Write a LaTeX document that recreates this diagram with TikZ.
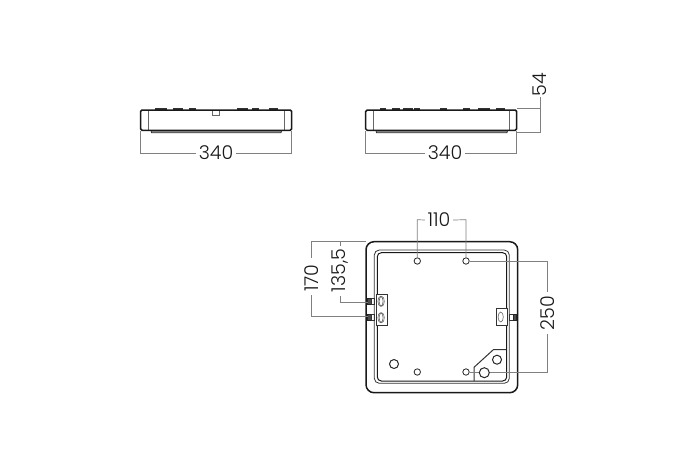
\documentclass[tikz,border=0pt]{standalone}
\usepackage{fontspec}
\setmainfont{Poppins}[UprightFont=* Light]
\tikzset{
  dimline/.style={draw=black!50,line width=0.7pt},
  dimtext/.style={font=\fontsize{19}{20}\selectfont,text=black!90,inner sep=2.5pt},
  heavy/.style={draw=black!90,line width=1.5pt},
  medium/.style={draw=black!80,line width=0.8pt},
  fine/.style={draw=black!60,line width=0.6pt},
  hole/.style={draw=black!85,line width=0.8pt,fill=white},
  bighole/.style={draw=black!85,line width=1pt,fill=white},
  screwbox/.style={draw=black!85,line width=0.8pt,fill=black!70},
}
\begin{document}
\begin{tikzpicture}[x=1pt,y=-1pt]
\useasboundingbox (0,0) rectangle (700,467);
% ---- left side view
\foreach \a/\b in {155/167,173/183,189/196,237/248,252/259,269/278}{
  \draw[medium,line width=1.2pt] (\a,109) -- (\b,109);
}
\draw[fine] (212.7,110.5) rectangle (219.3,115);
\draw[fine] (148.3,110) -- (148.3,130) (284,110) -- (284,130);
\draw[medium,fill=black!45] (151,130.5) -- (151.5,132.7) -- (281,132.7) -- (281.7,130.5);
\draw[heavy,rounded corners=1.5pt] (140.5,110) rectangle (291.7,130.3);
% ---- right side view
\foreach \a/\b in {380/386,392/400,403/413,414/420,440/447,463/470,478/490,496/505}{
  \draw[medium,line width=1.2pt] (\a,109) -- (\b,109);
}
\draw[fine] (373.3,110) -- (373.3,130) (509.3,110) -- (509.3,130);
\draw[medium,fill=black!45] (376,130.5) -- (376.5,132.7) -- (507,132.7) -- (507.5,130.5);
\draw[heavy,rounded corners=1.5pt] (365.7,110) rectangle (516.7,130.3);
% ---- plan view
\draw[heavy,rounded corners=8pt] (366,241.7) rectangle (517.7,392.7);
\draw[medium,rounded corners=5pt] (374.3,250) rectangle (509.3,383.3);
\draw[heavy,line width=1pt,rounded corners=4pt] (377.3,252.7) rectangle (506.7,381);
% left bracket
\draw[medium,fill=white] (376,294.3) rectangle (387.3,325.7);
\draw[fine] (381.7,301.3) ellipse [x radius=2.6,y radius=5];
\draw[fine] (381.7,317.7) ellipse [x radius=2.6,y radius=5];
\draw[fine] (380.5,301.3) ellipse [x radius=2.6,y radius=5];
\draw[fine] (380.5,317.7) ellipse [x radius=2.6,y radius=5];
\draw[screwbox] (367.5,298.3) rectangle (371,304.3);
\draw[medium] (371,298.3) rectangle (374,304.3);
\draw[screwbox] (367.5,314.3) rectangle (371,320.3);
\draw[medium] (371,314.3) rectangle (374,320.3);
% right bracket
\draw[medium,fill=white] (496,308.3) rectangle (507,325.7);
\draw[fine] (500.7,317) ellipse [x radius=2.6,y radius=5];
\draw[medium] (509.5,314.3) rectangle (513,320.3);
\draw[screwbox] (513,314.3) rectangle (516.5,320.3);
% corner bracket
\draw[medium,line width=1pt] (474,381) -- (474,367.3) -- (493.3,349.7) -- (506,349.7);
% holes
\foreach \n/\x/\y in {ha/417.3/261,hb/466/261,hc/417.3/372,hd/466/372}{
  \node[hole,circle,minimum size=6.4pt,inner sep=0pt] (\n) at (\x,\y) {};
}
\node[bighole,circle,minimum size=9pt,inner sep=0pt] (he) at (394,364) {};
\node[bighole,circle,minimum size=9pt,inner sep=0pt] (hg) at (497,359.7) {};
% ---- dimensions
% left 340
\node[dimtext] (tl) at (216,153) {340};
\coordinate (la) at (140.5,131);
\coordinate (lb) at (291.7,131);
\draw[dimline] (la) -- (la |- tl) -- (tl.west);
\draw[dimline] (lb) -- (lb |- tl) -- (tl.east);
% right 340
\node[dimtext] (tr) at (445,153) {340};
\coordinate (ra) at (365.7,131);
\coordinate (rb) at (516.7,131);
\draw[dimline] (ra) -- (ra |- tr) -- (tr.west);
\draw[dimline] (rb) -- (rb |- tr) -- (tr.east);
% 54
\node[dimtext,rotate=90] (t54) at (539.5,85) {54};
\coordinate (sa) at (517,108.7);
\coordinate (sb) at (517,132.3);
\draw[dimline] (sa) -- (540,108.7) -- (540,97);
\draw[dimline] (sb) -- (540,132.3) -- (540,108.7);
% 110
\node[dimtext] (t110) at (439,220) {110};
\draw[dimline] (ha) -- (417.3,219.7) -- (t110.west);
\draw[dimline] (hb) -- (466,219.7) -- (t110.east);
% 170
\node[dimtext,rotate=90] (t170) at (312,278) {170};
\coordinate (oa) at (366,241);
\coordinate (ob) at (367.5,316.7);
\draw[dimline] (oa) -- (311.7,241) -- (311.7,258);
\draw[dimline] (ob) -- (311.7,316.7) -- (311.7,295);
% 135,5
\node[dimtext,rotate=90] (t135) at (340,270.5) {135,5};
\coordinate (oc) at (367.5,302);
\draw[dimline] (340,241) -- (340,246);
\draw[dimline] (oc) -- (340,302) -- (340,296);
% 250
\node[dimtext,rotate=90] (t250) at (547.7,313) {250};
\draw[dimline] (hb) -- (547.7,261) -- (547.7,292);
\draw[dimline] (hd) -- (547.7,372) -- (547.7,333.5);
% big hole on top of the dim line
\node[bighole,circle,minimum size=10pt,inner sep=0pt] (hf) at (484.3,372.7) {};
\end{tikzpicture}
\end{document}
